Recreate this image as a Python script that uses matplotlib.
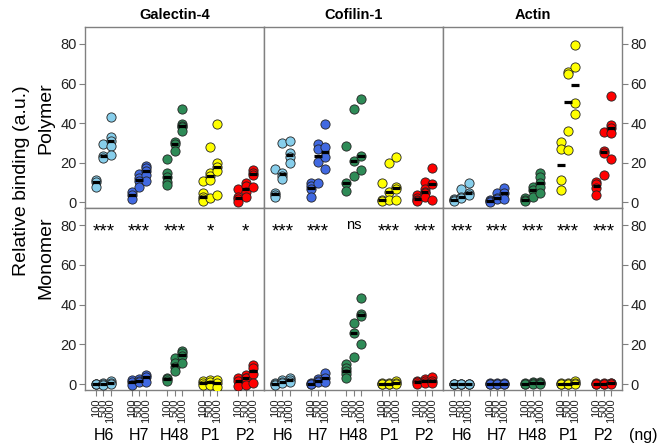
import numpy as np
import matplotlib.pyplot as plt

plt.rcParams['font.family'] = ['Liberation Sans', 'DejaVu Sans']

# groups and doses
groups = ['H6', 'H7', 'H48', 'P1', 'P2']
doses = ['100', '500', '1000']
colors = ['#87CEEB', '#4169E1', '#2E8B57', '#FFFF00', '#FF0000']
proteins = ['Galectin-4', 'Cofilin-1', 'Actin']

# values, one list per group x dose (H6-100, H6-500, H6-1000, H7-100, ...)
gal_poly = [
    [11, 10, 7.5], [29.5, 23.5, 22.5], [43, 33, 31, 28.5, 24],
    [5, 3.8, 1.5], [14, 12, 10.5, 7.8], [18.5, 17, 15.5, 13.5, 10.8],
    [22, 14.5, 12.5, 10, 8.5], [30.5, 29.5, 26], [47, 39.5, 38.5, 38, 36],
    [10.5, 4.4, 2.7, 1.5, 0.5], [28, 14.5, 13, 11, 2], [39.5, 20, 18, 15.5, 3.7],
    [6.4, 2.7, 1.5, 0.2], [9.5, 8.3, 5.2, 2.4], [16, 14.5, 13.5, 7.4],
]
cof_poly = [
    [16.5, 4.4, 3.8, 2.8], [29.7, 14.9, 13.2, 11.6], [31, 24.6, 22.6, 20],
    [9.8, 8.3, 6.4, 2.4], [29.4, 26.8, 20.1, 9.8], [39.3, 28, 22.6, 16.5],
    [28.5, 9.8, 5.7], [47, 21, 13.3], [52, 23.5, 16],
    [9.8, 1.2, 0.3], [20, 4.9, 1], [23, 7.5, 6.5, 1],
    [3.5, 2, 1, 0.5], [10.3, 6.6, 5.2, 4.5, 2.7], [17, 9.1, 1],
]
act_poly = [
    [1.5, 1, 0.5], [6.6, 2.7, 2], [9.8, 4.7, 3.5],
    [1, 0.5, 0], [4.7, 2.2, 1.4], [7.3, 4.7, 1.4],
    [1.9, 1.2, 0.5], [7.8, 5.9, 2.7], [14.5, 12.8, 9.8, 7.8, 4.4],
    [30.5, 26.8, 11.1, 6.1], [66, 65, 36, 26.3], [79.3, 68.2, 50, 44.6],
    [10.3, 9, 7, 3.5], [35.6, 25.8, 25, 13.7], [53.7, 39, 37.3, 34.8, 21.6],
]
gal_mono = [
    [0.2, 0, -0.2], [0.3, 0, -0.5], [1.5, 0.5, 0],
    [1.8, 0.8, -0.3], [2.5, 1.5, 1.2], [4.5, 3.3, 1.2],
    [2.9, 2.5, 1.7], [13, 10.5, 8.5, 6.5], [16.8, 15.4, 14.1, 10.4],
    [1.7, 0.7, -0.3], [2, 0.8, -0.3], [2, 0.7, -1.3],
    [3.2, 1.7, -1.2], [4.5, 3.2, 2.8, -0.3], [9.6, 7.9, 4.9, 0.3],
]
cof_mono = [
    [0.3, 0, -0.3], [2, 1, 0.3], [3.2, 2.2, 1.2],
    [0.5, 0.2, -0.2], [2.5, 1.5, 0.8], [5.4, 3, 1.2],
    [9.9, 7.9, 6.5, 4.9, 3.2], [30.5, 25.5, 13.8], [43.1, 35.1, 34.4, 20.1],
    [0.5, 0.2, 0], [0.5, 0.2, 0], [1.5, 0.5, 0],
    [1.5, 0.8, 0.2], [2.5, 1.5, 0.5], [3.4, 1.7, 0.5],
]
act_mono = [
    [0.2, 0, -0.2], [0.2, 0, -0.2], [0.2, 0, -0.2],
    [0.3, 0.1, 0], [0.3, 0.1, 0], [0.3, 0.1, 0],
    [0.5, 0.2, 0], [1, 0.5, 0], [1.2, 0.6, 0.2],
    [0.3, 0, -0.2], [0.5, 0.2, 0], [1.3, 0.5, 0],
    [0.4, 0.2, 0], [0.5, 0.2, 0], [0.6, 0.3, 0],
]

gal_sig = ['***', '***', '***', '*', '*']
cof_sig = ['***', '***', 'ns', '***', '***']
act_sig = ['***', '***', '***', '***', '***']

poly = [gal_poly, cof_poly, act_poly]
mono = [gal_mono, cof_mono, act_mono]
sigs = [gal_sig, cof_sig, act_sig]

W, H = 665, 446
fig = plt.figure(figsize=(W / 100, H / 100), dpi=100)

col_x = [85, 264, 443, 622]
row_y = [(27, 208), (208, 390)]
grey = '#808080'


def draw_panel(ax, data):
    for gi in range(len(groups)):
        for di in range(len(doses)):
            vals = data[gi * 3 + di]
            x = gi * 5 + di
            ax.scatter([x] * len(vals), vals, s=44, c=colors[gi],
                       edgecolors='#222222', linewidths=0.6, zorder=3)
            ax.hlines(np.median(vals), x - 0.55, x + 0.55, color='black',
                      linewidth=2.3, zorder=4)


axes = {}
for r in range(2):
    for c in range(3):
        top, bot = row_y[r]
        ax = fig.add_axes([col_x[c] / W, 1 - bot / H,
                           (col_x[c + 1] - col_x[c]) / W, (bot - top) / H])
        axes[(r, c)] = ax
        draw_panel(ax, poly[c] if r == 0 else mono[c])
        ax.set_xlim(-1.6, 23.6)
        ax.set_ylim(-3, 88.6)
        for sp in ax.spines.values():
            sp.set_color(grey)
            sp.set_linewidth(1.0)
        ax.set_yticks([0, 20, 40, 60, 80])
        ax.tick_params(axis='y', length=4, color=grey, labelsize=10.5,
                       labelcolor='#222222', pad=2)
        if c == 0:
            ax.tick_params(axis='y', left=True, labelleft=True,
                           right=False, labelright=False)
        elif c == 2:
            ax.tick_params(axis='y', left=False, labelleft=False,
                           right=True, labelright=True)
        else:
            ax.tick_params(axis='y', left=False, labelleft=False)

        if r == 0:
            ax.set_xticks([])
            ax.set_title(proteins[c], fontsize=10.5, fontweight='bold', pad=6)
        else:
            pos = [gi * 5 + di for gi in range(5) for di in range(3)]
            ax.set_xticks(pos)
            ax.set_xticklabels(doses * 5, rotation=90, fontsize=8)
            ax.tick_params(axis='x', length=4, color=grey, pad=2,
                           labelcolor='#222222')
            for gi, g in enumerate(groups):
                ax.text(gi * 5 + 1, -0.25, g, transform=ax.get_xaxis_transform(),
                        ha='center', va='center', fontsize=11.5)
            for gi, lab in enumerate(sigs[c]):
                if lab == 'ns':
                    ax.text(gi * 5 + 1, 80, lab, ha='center', va='center',
                            fontsize=10.5)
                else:
                    ax.text(gi * 5 + 1, 74.5, lab, ha='center', va='baseline',
                            fontsize=13.5)

axes[(1, 2)].text(1.04, -0.25, '(ng)', transform=axes[(1, 2)].transAxes,
                  ha='left', va='center', fontsize=11.5)

fig.text(22 / W, 1 - 181 / H, 'Relative binding (a.u.)', rotation=90,
         ha='center', va='center', fontsize=14)
fig.text(46 / W, 1 - 118 / H, 'Polymer', rotation=90,
         ha='center', va='center', fontsize=14)
fig.text(46 / W, 1 - 258 / H, 'Monomer', rotation=90,
         ha='center', va='center', fontsize=14)

fig.savefig('out.png', dpi=100)
